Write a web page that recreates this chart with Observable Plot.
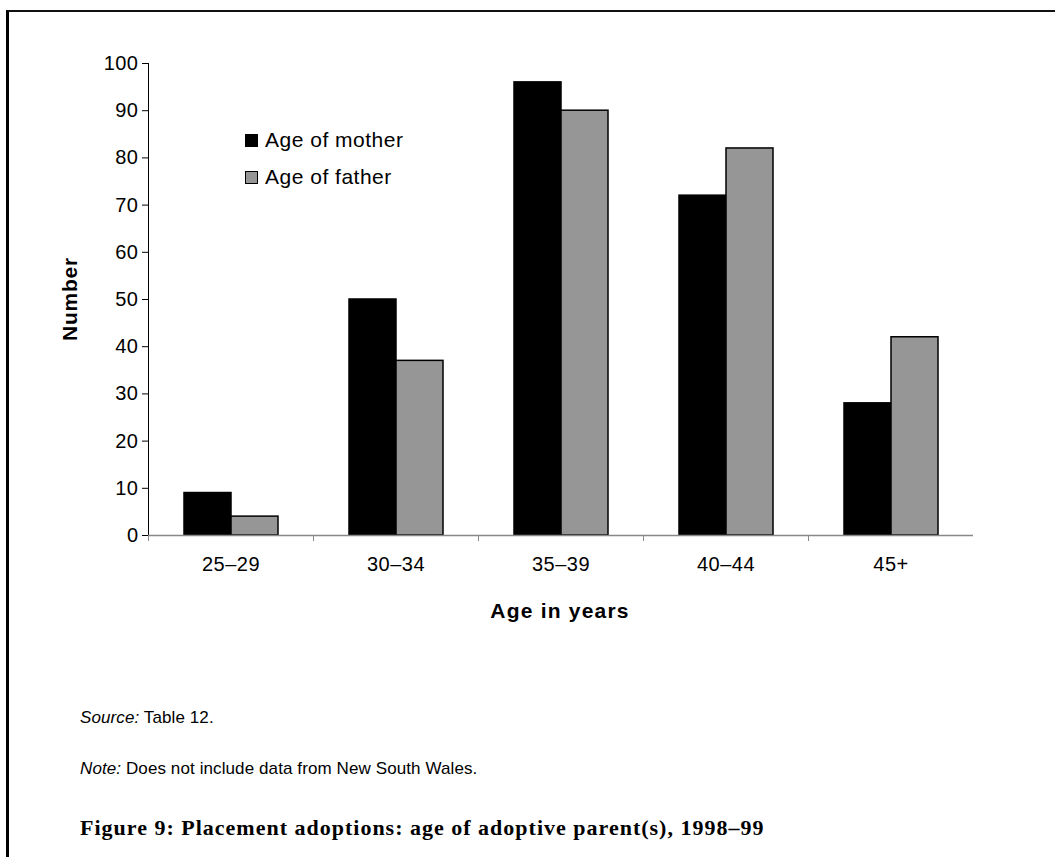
<!DOCTYPE html>
<html>
<head>
<meta charset="utf-8">
<script src="https://cdn.jsdelivr.net/npm/d3@7"></script>
<script src="https://cdn.jsdelivr.net/npm/@observablehq/plot@0.6"></script>
<style>
  html, body { margin: 0; padding: 0; background: #fff; }
  body { width: 1055px; height: 857px; position: relative; overflow: hidden; font-family: "Liberation Sans", Arial, sans-serif; color: #000; }
  #frame { position: absolute; left: 6px; top: 10px; width: 1200px; height: 1000px; border-left: 3px solid #000; border-top: 2px solid #111; }
  #chart { position: absolute; left: 0; top: 0; }
  .legend { position: absolute; left: 245px; font-size: 21px; letter-spacing: 0.5px; display: flex; align-items: center; }
  .legend .sw { width: 13px; height: 13px; margin-right: 7px; box-sizing: border-box; border: 1.5px solid #000; }
  .ytitle { position: absolute; left: 70px; top: 299px; transform: translate(-50%, -50%) rotate(-90deg); font-weight: bold; font-size: 21px; letter-spacing: 0.8px; white-space: nowrap; }
  .xtitle { position: absolute; left: 560px; top: 611px; transform: translate(-50%, -50%); font-weight: bold; font-size: 21px; letter-spacing: 1.2px; white-space: nowrap; }
  .note { position: absolute; left: 80px; font-size: 17px; letter-spacing: 0.1px; white-space: nowrap; }
  .fig { position: absolute; left: 80px; top: 815px; font-family: "Liberation Serif", serif; font-weight: bold; font-size: 22px; letter-spacing: 1px; white-space: nowrap; }
</style>
</head>
<body>
<div id="frame"></div>
<div id="chart"></div>
<div class="legend" id="leg0" style="top:128px"></div>
<div class="legend" id="leg1" style="top:165px"></div>
<div class="ytitle">Number</div>
<div class="xtitle">Age in years</div>
<div class="note" style="top:708px"><i>Source:</i> Table 12.</div>
<div class="note" style="top:759px"><i>Note:</i> Does not include data from New South Wales.</div>
<div class="fig">Figure 9: Placement adoptions: age of adoptive parent(s), 1998–99</div>
<script>
// Age groups of adoptive parents and the number of placements in each
const categories = ["25–29", "30–34", "35–39", "40–44", "45+"];
const series = ["Age of mother", "Age of father"];
const motherValues = [9, 50, 96, 72, 28];
const fatherValues = [4, 37, 90, 82, 42];
const yTicks = [0, 10, 20, 30, 40, 50, 60, 70, 80, 90, 100];
const seriesColors = ["#000000", "#969696"];

const rows = categories.flatMap((category, i) => [
  {category, parent: series[0], value: motherValues[i]},
  {category, parent: series[1], value: fatherValues[i]}
]);

const W = 1055, H = 630;
const margin = {left: 148, right: 82, top: 63, bottom: 95};
const groupStep = (W - margin.left - margin.right) / categories.length;

const chart = Plot.plot({
  width: W,
  height: H,
  marginLeft: margin.left,
  marginRight: margin.right,
  marginTop: margin.top,
  marginBottom: margin.bottom,
  style: {fontFamily: "Liberation Sans, Arial, sans-serif", fontSize: "20px", letterSpacing: "0.5px", color: "#000", background: "transparent", overflow: "visible"},
  fx: {domain: categories, padding: 0, label: null},
  x: {domain: series, paddingInner: 0, paddingOuter: 0.72, axis: null},
  y: {domain: [0, 100], ticks: yTicks, label: null, line: true, tickSize: 6, tickPadding: 4},
  color: {domain: series, range: seriesColors},
  marks: [
    Plot.barY(rows, {fx: "category", x: "parent", y: "value", fill: "parent", stroke: "#000", strokeWidth: 1.5}),
    Plot.ruleY([0], {stroke: "#888", strokeWidth: 1.5}),
    // category labels centred under each group
    Plot.axisFx({anchor: "bottom", tickSize: 0, tickPadding: 21, label: null, fontSize: 20}),
    // short ticks marking the boundaries between age groups
    Plot.axisFx({anchor: "bottom", tickSize: 6, tickFormat: () => "", label: null, stroke: "#888", dx: -groupStep / 2})
  ]
});
document.getElementById("chart").appendChild(chart);

// legend swatches
series.forEach((name, i) => {
  const el = document.getElementById("leg" + i);
  const sw = document.createElement("span");
  sw.className = "sw";
  sw.style.background = seriesColors[i];
  el.appendChild(sw);
  el.appendChild(document.createTextNode(name));
});
</script>
</body>
</html>
